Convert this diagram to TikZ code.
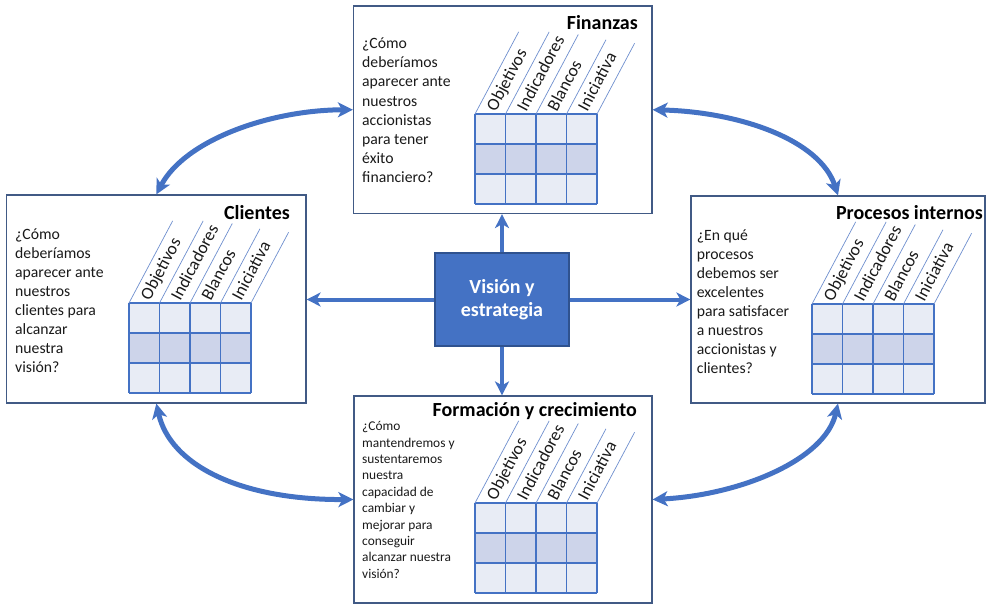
\documentclass[tikz,border=0pt]{standalone}
\usepackage{fontspec}
\setmainfont{Carlito}
\usetikzlibrary{arrows.meta,calc}
\definecolor{accent}{HTML}{4472C4}
\definecolor{accentdark}{HTML}{2F528F}
\definecolor{panelline}{HTML}{415A85}
\definecolor{rowlight}{HTML}{E8ECF5}
\definecolor{rowdark}{HTML}{CDD4EA}
\definecolor{diagcol}{HTML}{6F8FCF}
\definecolor{textcol}{HTML}{1A1A1A}

\newcommand\bscgrid[3]{%
  \fill[rowlight] (#2,#3) rectangle ++(122,30);
  \fill[rowdark] (#2,#3+30) rectangle ++(122,30);
  \fill[rowlight] (#2,#3+60) rectangle ++(122,30);
  \foreach \i in {0,...,4} \draw[gridline] (#2+30.5*\i,#3) -- ++(0,90);
  \foreach \j in {0,...,3} \draw[gridline] (#2,#3+30*\j) -- ++(122,0);
  \foreach \i/\L in {0/93,1/93,2/90,3/84,4/80}
    \draw[diagline] (#2+30.5*\i,#3) -- ++({\L*cos(62)},{-\L*sin(62)});
  \foreach \i/\t in {0/Objetivos,1/Indicadores,2/Blancos,3/Iniciativa}
    \node[hdr] (#1h\i) at (#2+30.5*\i+15.25+1.9,#3-3.6) {\t};
}
\newcommand\bsclines[6]{%
  \foreach \t [count=\k] in {#5}
    \node[body,#6] (#1l\k) at (#2,#3+#4*\k-#4) {\t};
}

\begin{document}
\begin{tikzpicture}[x=1pt,y=-1pt,
  panel/.style={draw=panelline, line width=1.2pt, fill=white, inner sep=0pt},
  visbox/.style={draw=accentdark, line width=1.2pt, fill=accent, inner sep=0pt,
     minimum width=134pt, minimum height=93pt, text=white, align=center,
     font=\bfseries\fontsize{20}{22.5}\selectfont},
  gridline/.style={draw=accent, line width=1.3pt},
  diagline/.style={draw=diagcol, line width=0.7pt},
  hdr/.style={rotate=62, anchor=west, inner sep=0pt, text height=12pt, text depth=3.8pt,
     text=textcol, font=\fontsize{17.5}{19}\selectfont},
  body/.style={anchor=base west, inner sep=0pt, text=textcol, font=\fontsize{15.7}{19}\selectfont},
  smallbody/.style={font=\fontsize{13.4}{16}\selectfont},
  ptitle/.style={anchor=base east, inner sep=0pt, text=black, font=\bfseries\fontsize{20}{24}\selectfont},
  straight/.style={draw=accent, line width=4pt, -{Stealth[length=14pt,width=14pt,inset=4pt]}},
  curved/.style={draw=accent, line width=5pt,
     {Stealth[length=15pt,width=15pt,inset=4pt]}-{Stealth[length=15pt,width=15pt,inset=4pt]}}
]
\useasboundingbox (0,0) rectangle (990,605);

% panels
\node[panel, minimum width=298.5pt, minimum height=207.5pt] (fin) at (502.75,109.75) {};
\node[panel, minimum width=299.3pt, minimum height=208pt] (cli) at (156.35,299) {};
\node[panel, minimum width=294pt, minimum height=207pt] (pro) at (838,299.5) {};
\node[panel, minimum width=298pt, minimum height=207pt] (frm) at (503,499.5) {};
\node[visbox] (vis) at (502,299.5) {Visión y\\estrategia};

% titles
\node[ptitle] (fint) at (638,29.3) {Finanzas};
\node[ptitle] (clit) at (290,219.3) {Clientes};
\node[ptitle] (prot) at (983,219.3) {Procesos internos};
\node[ptitle] (frmt) at (637,416.7) {Formación y crecimiento};

% questions
\bsclines{fin}{362}{48.5}{19.2}{¿Cómo,deberíamos,aparecer ante,nuestros,accionistas,para tener,éxito,financiero?}{}
\bsclines{cli}{15}{239.3}{19.06}{¿Cómo,deberíamos,aparecer ante,nuestros,clientes para,alcanzar,nuestra,visión?}{}
\bsclines{pro}{696.7}{240}{19.0}{¿En qué,procesos,debemos ser,excelentes,para satisfacer,a nuestros,accionistas y,clientes?}{}
\bsclines{frm}{362}{430.7}{16.4}{¿Cómo,mantendremos y,sustentaremos,nuestra,capacidad de,cambiar y,mejorar para,conseguir,alcanzar nuestra,visión?}{smallbody}

% tables
\bscgrid{fin}{475}{114}
\bscgrid{cli}{129}{303}
\bscgrid{pro}{812}{304}
\bscgrid{frm}{475}{503}

% straight arrows
\draw[straight] (vis.north) -- (vis.north |- fin.south);
\draw[straight] (vis.south) -- (vis.south |- frm.north);
\draw[straight] (vis.west) -- (vis.west -| cli.east);
\draw[straight] (vis.east) -- (vis.east -| pro.west);

% curved arrows
\draw[curved] (cli.north) .. controls (185,140) and (270,110) .. (fin.west);
\draw[curved] (fin.east) .. controls (740,112) and (820,140) .. (pro.north);
\draw[curved] (cli.south) .. controls (170,465) and (240,500) .. (frm.west);
\draw[curved] (pro.south) .. controls (825,460) and (740,495) .. (frm.east);
\end{tikzpicture}
\end{document}
